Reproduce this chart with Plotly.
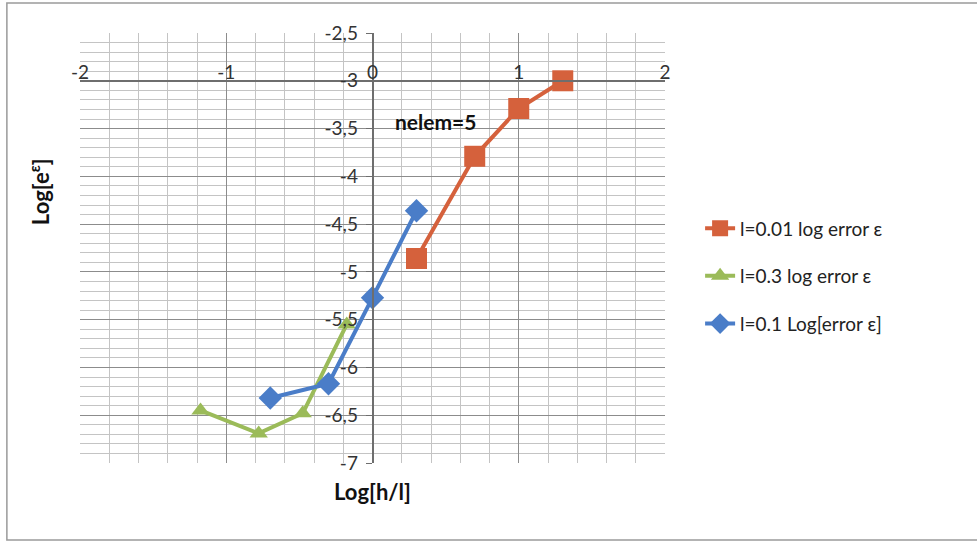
import plotly.graph_objects as go

# Log[h/l] and log error for each length scale l
log_hl_l001 = [0.301, 0.699, 1.0, 1.301]
log_err_l001 = [-4.86, -3.79, -3.29, -3.0]

log_hl_l03 = [-1.176, -0.778, -0.477, -0.176]
log_err_l03 = [-6.45, -6.69, -6.48, -5.55]

log_hl_l01 = [-0.699, -0.301, 0.0, 0.301]
log_err_l01 = [-6.32, -6.17, -5.27, -4.36]

series_names = ["l=0.01 log error ε", "l=0.3 log error ε", "l=0.1 Log[error ε]"]

x_tick_vals = [-2, -1, 0, 1, 2]
x_tick_text = ["-2", "-1", "0", "1", "2"]
y_tick_vals = [-2.5, -3, -3.5, -4, -4.5, -5, -5.5, -6, -6.5, -7]
y_tick_text = ["-2,5", "-3", "-3,5", "-4", "-4,5", "-5", "-5,5", "-6", "-6,5", "-7"]

X_RANGE = [-2, 2]
Y_RANGE = [-7, -2.5]
X_CROSS = 0.0    # vertical axis crosses here
Y_CROSS = -3.0   # horizontal axis crosses here

FONT = "Lato, 'Open Sans', sans-serif"

fig = go.Figure()

fig.add_trace(go.Scatter(
    x=log_hl_l001, y=log_err_l001, name=series_names[0], legendgroup="a",
    mode="lines+markers",
    line=dict(color="#D5613C", width=4),
    marker=dict(symbol="square", size=21, color="#D5613C"),
))
fig.add_trace(go.Scatter(
    x=log_hl_l03, y=log_err_l03, name=series_names[1], legendgroup="b",
    mode="lines+markers",
    line=dict(color="#9BBB59", width=4),
    marker=dict(symbol="triangle-up", size=16, color="#9BBB59"),
))
fig.add_trace(go.Scatter(
    x=log_hl_l01, y=log_err_l01, name=series_names[2], legendgroup="c",
    mode="lines+markers",
    line=dict(color="#4A7DC8", width=4),
    marker=dict(symbol="diamond", size=18, color="#4A7DC8"),
))

x_pos = (X_CROSS - X_RANGE[0]) / (X_RANGE[1] - X_RANGE[0])
y_pos = (Y_CROSS - Y_RANGE[0]) / (Y_RANGE[1] - Y_RANGE[0])

fig.update_layout(
    width=977, height=543, autosize=False,
    margin=dict(l=80, r=312, t=33, b=80),
    paper_bgcolor="white", plot_bgcolor="white",
    font=dict(family=FONT, size=19, color="#222222"),
    showlegend=True,
    legend=dict(
        x=1.06, y=0.59, xanchor="left", yanchor="top",
        font=dict(family=FONT, size=19, color="#222222"),
        tracegroupgap=20, bgcolor="rgba(0,0,0,0)",
    ),
    xaxis=dict(
        range=X_RANGE, anchor="free", position=y_pos, side="top",
        tickmode="array", tickvals=x_tick_vals, ticktext=x_tick_text,
        showgrid=True, gridcolor="#8c8c8c", gridwidth=1,
        showline=True, linecolor="#6e6e6e", linewidth=1.5,
        zeroline=False, ticks="", ticklabelstandoff=-7,
        tickfont=dict(family=FONT, size=19, color="#333333"),
        minor=dict(tickmode="linear", tick0=-2, dtick=0.2, showgrid=True,
                   gridcolor="#c4c4c4", gridwidth=1),
        fixedrange=True,
    ),
    yaxis=dict(
        range=Y_RANGE, anchor="free", position=x_pos, side="left",
        tickmode="array", tickvals=y_tick_vals, ticktext=y_tick_text,
        showgrid=True, gridcolor="#8c8c8c", gridwidth=1,
        showline=True, linecolor="#6e6e6e", linewidth=1.5,
        zeroline=False, ticks="outside", ticklen=6, tickcolor="#6e6e6e",
        ticklabelstandoff=4,
        tickfont=dict(family=FONT, size=19, color="#333333"),
        minor=dict(tickmode="linear", tick0=-7, dtick=0.1, showgrid=True,
                   gridcolor="#c4c4c4", gridwidth=1),
        fixedrange=True,
    ),
    annotations=[
        dict(text="<b>nelem=5</b>", x=0.43, y=-3.43, xref="x", yref="y",
             showarrow=False, font=dict(family=FONT, size=21, color="#111111")),
        dict(text="<b>Log[h/l]</b>", x=0.5, y=-0.03, xref="paper", yref="paper",
             xanchor="center", yanchor="top", showarrow=False,
             font=dict(family=FONT, size=22, color="#111111")),
        dict(text="<b>Log[e<sup>ε</sup>]</b>", x=-0.07, y=0.63, xref="paper",
             yref="paper", xanchor="center", yanchor="middle", textangle=-90,
             showarrow=False,
             font=dict(family=FONT, size=22, color="#111111")),
    ],
    shapes=[
        dict(type="rect", xref="paper", yref="paper",
             x0=-0.125, x1=1.8, y0=-0.179, y1=1.07,
             line=dict(color="#9a9a9a", width=1.5), layer="below"),
    ],
)

fig.write_html("out.html")
